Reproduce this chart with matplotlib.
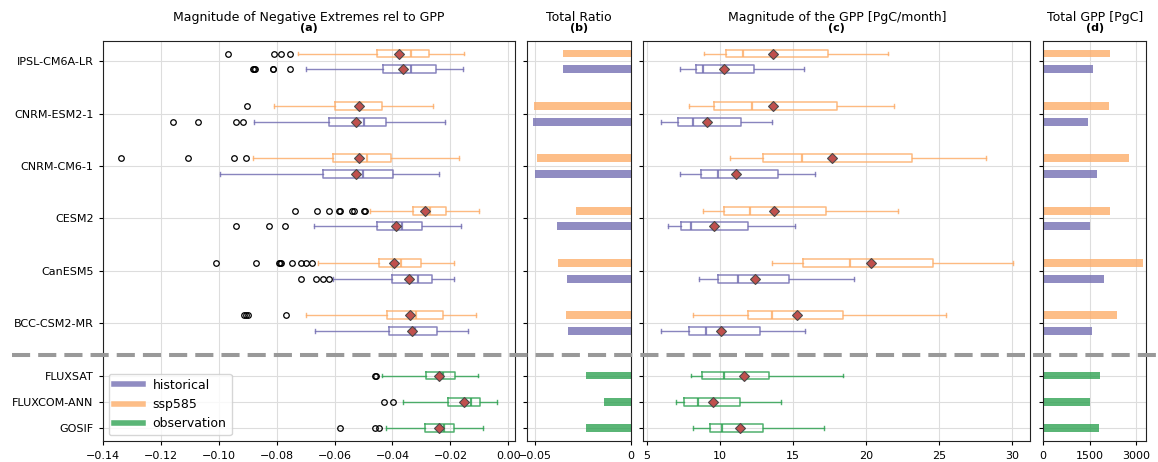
import numpy as np
import matplotlib
matplotlib.use("Agg")
import matplotlib.pyplot as plt
import matplotlib.transforms as mtransforms
from matplotlib.lines import Line2D
from matplotlib.colors import to_rgba

# ---- categories
models = ['IPSL-CM6A-LR', 'CNRM-ESM2-1', 'CNRM-CM6-1', 'CESM2', 'CanESM5', 'BCC-CSM2-MR']
obs_names = ['FLUXSAT', 'FLUXCOM-ANN', 'GOSIF']
model_y = [0, 2, 4, 6, 8, 10]
obs_y = [12, 13, 14]
sep_y = 11.2

col_hist = '#7570b3'
col_ssp = '#fdae6b'
col_obs = '#31a354'

# ---- (a) magnitude of negative extremes rel to GPP: [whislo, q1, med, q3, whishi]
ext_hist = [[-0.0697, -0.0431, -0.0335, -0.0248, -0.0156],
            [-0.0877, -0.0618, -0.0499, -0.0422, -0.0217],
            [-0.0996, -0.0638, -0.0503, -0.0399, -0.0241],
            [-0.0671, -0.0454, -0.0367, -0.0298, -0.0162],
            [-0.0604, -0.0400, -0.0313, -0.0262, -0.0187],
            [-0.0666, -0.0413, -0.0322, -0.0246, -0.0139]]
ext_hist_mean = [-0.0364, -0.0526, -0.0526, -0.0389, -0.0344, -0.0331]
ext_hist_fliers = [[-0.0880, -0.0878, -0.0876, -0.0814, -0.0812, -0.0752],
                   [-0.1157, -0.1071, -0.0939, -0.0916],
                   [],
                   [-0.0941, -0.0826, -0.0771],
                   [-0.0715, -0.0663, -0.0640, -0.0619],
                   []]

ext_ssp = [[-0.0727, -0.0454, -0.0335, -0.0274, -0.0153],
           [-0.0808, -0.0600, -0.0510, -0.0435, -0.0260],
           [-0.0880, -0.0604, -0.0488, -0.0406, -0.0171],
           [-0.0476, -0.0328, -0.0270, -0.0214, -0.0101],
           [-0.0656, -0.0447, -0.0370, -0.0300, -0.0187],
           [-0.0700, -0.0418, -0.0320, -0.0226, -0.0111]]
ext_ssp_mean = [-0.0377, -0.0514, -0.0514, -0.0289, -0.0396, -0.0339]
ext_ssp_fliers = [[-0.0969, -0.0809, -0.0785, -0.0755],
                  [-0.0903],
                  [-0.1336, -0.1104, -0.0947, -0.0906],
                  [-0.0737, -0.0661, -0.0619, -0.0584, -0.0580, -0.0541, -0.0532, -0.0498, -0.0496],
                  [-0.1010, -0.0871, -0.0790, -0.0787, -0.0784, -0.0747, -0.0715, -0.0698, -0.0679],
                  [-0.0913, -0.0907, -0.0900, -0.0767]]

ext_obs = [[-0.0436, -0.0285, -0.0225, -0.0184, -0.0106],
           [-0.0363, -0.0210, -0.0130, -0.0098, -0.0040],
           [-0.0421, -0.0287, -0.0221, -0.0186, -0.0087]]
ext_obs_mean = [-0.0240, -0.0154, -0.0240]
ext_obs_fliers = [[-0.0460, -0.0458], [-0.0428, -0.0397], [-0.0582, -0.0459, -0.0447]]

# ---- (b) total ratio
ratio_hist = [-0.0353, -0.0513, -0.0502, -0.0383, -0.0331, -0.0327]
ratio_ssp = [-0.0353, -0.0506, -0.0491, -0.0286, -0.0379, -0.0338]
ratio_obs = [-0.0234, -0.0141, -0.0234]

# ---- (c) magnitude of the GPP [PgC/month]
gpp_hist = [[7.27, 8.36, 8.85, 12.36, 15.75],
            [5.98, 7.18, 8.16, 11.47, 13.59],
            [7.27, 8.74, 9.89, 14.02, 16.52],
            [6.44, 7.33, 8.02, 11.93, 15.17],
            [8.56, 9.86, 11.26, 14.77, 19.22],
            [5.98, 7.93, 9.05, 12.73, 15.83]]
gpp_hist_mean = [10.29, 9.14, 11.12, 9.60, 12.44, 10.09]
gpp_ssp = [[8.94, 10.40, 11.61, 17.41, 21.52],
           [7.90, 9.60, 12.21, 18.02, 21.90],
           [10.72, 12.93, 15.66, 23.19, 28.19],
           [8.85, 10.32, 12.07, 17.27, 22.21],
           [13.56, 15.69, 18.94, 24.57, 30.06],
           [8.19, 11.95, 13.59, 18.45, 25.49]]
gpp_ssp_mean = [13.68, 13.65, 17.70, 13.71, 20.34, 15.29]
gpp_obs = [[8.07, 8.79, 10.29, 13.36, 18.45],
           [7.04, 7.53, 8.53, 11.41, 14.20],
           [8.19, 9.34, 10.17, 12.93, 17.13]]
gpp_obs_mean = [11.67, 9.57, 11.41]

# ---- (d) total GPP [PgC]
tot_hist = [1608, 1446, 1743, 1513, 1959, 1581]
tot_ssp = [2162, 2121, 2770, 2162, 3202, 2378]
tot_obs = [1837, 1513, 1797]


def make_stats(five, means, fliers=None):
    out = []
    for i, f in enumerate(five):
        out.append({'whislo': f[0], 'q1': f[1], 'med': f[2], 'q3': f[3], 'whishi': f[4],
                    'mean': means[i], 'fliers': fliers[i] if fliers else []})
    return out


def draw_box(ax, stats, pos, color, fliers=True):
    c = to_rgba(color, 0.85)
    ax.bxp(stats, positions=pos, widths=0.3, orientation='horizontal',
           showmeans=True, showfliers=fliers, manage_ticks=False,
           boxprops=dict(color=c, lw=1.1), whiskerprops=dict(color=c, lw=1.0),
           capprops=dict(color=c, lw=1.0), medianprops=dict(color=c, lw=1.6),
           meanprops=dict(marker='D', markerfacecolor='#c0504d', markeredgecolor='#4a4a4a',
                          markersize=5.5, markeredgewidth=0.8),
           flierprops=dict(marker='o', markerfacecolor='none', markeredgecolor='black',
                           markersize=4, markeredgewidth=0.9))


def draw_bars(ax, hist, ssp, obs):
    ax.barh(np.array(model_y) - 0.3, ssp, height=0.3, color=to_rgba(col_ssp, 0.8), zorder=2)
    ax.barh(np.array(model_y) + 0.3, hist, height=0.3, color=to_rgba(col_hist, 0.8), zorder=2)
    ax.barh(obs_y, obs, height=0.3, color=to_rgba(col_obs, 0.8), zorder=2)


def add_title(ax, main, lab):
    ax.text(0.5, 1.049, main, transform=ax.transAxes, ha='center', va='baseline', fontsize=9)
    ax.text(0.5, 1.024, lab, transform=ax.transAxes, ha='center', va='baseline',
            fontsize=8, fontweight='bold')


fig = plt.figure(figsize=(11.58, 4.62), dpi=100)
bot, hgt = 0.0444, 0.8675
ax_a = fig.add_axes([0.0887, bot, 0.3563, hgt])
ax_b = fig.add_axes([0.4554, bot, 0.0893, hgt])
ax_c = fig.add_axes([0.5555, bot, 0.3342, hgt])
ax_d = fig.add_axes([0.9007, bot, 0.0892, hgt])

all_y = model_y + obs_y
for ax in [ax_a, ax_b, ax_c, ax_d]:
    ax.set_ylim(14.52, -0.79)
    ax.set_yticks(all_y)
    ax.grid(True, color='#dddddd', lw=0.8)
    ax.set_axisbelow(True)
    ax.tick_params(labelsize=8, length=3)
    for s in ax.spines.values():
        s.set_color('#222222')

# (a)
draw_box(ax_a, make_stats(ext_ssp, ext_ssp_mean, ext_ssp_fliers), np.array(model_y) - 0.3, col_ssp)
draw_box(ax_a, make_stats(ext_hist, ext_hist_mean, ext_hist_fliers), np.array(model_y) + 0.3, col_hist)
draw_box(ax_a, make_stats(ext_obs, ext_obs_mean, ext_obs_fliers), obs_y, col_obs)
ax_a.set_xlim(-0.14, 0.0024)
ax_a.set_xticks(np.arange(-0.14, 0.001, 0.02))
ax_a.set_yticklabels(models + obs_names)
add_title(ax_a, 'Magnitude of Negative Extremes rel to GPP', '(a)')
handles = [Line2D([0], [0], color=to_rgba(col_hist, 0.8), lw=4),
           Line2D([0], [0], color=to_rgba(col_ssp, 0.8), lw=4),
           Line2D([0], [0], color=to_rgba(col_obs, 0.8), lw=4)]
ax_a.legend(handles, ['historical', 'ssp585', 'observation'], loc='lower left',
            fontsize=9, handlelength=2.3)

# (b)
draw_bars(ax_b, ratio_hist, ratio_ssp, ratio_obs)
ax_b.set_xlim(-0.054, 0)
ax_b.set_xticks([-0.05, 0])
ax_b.set_xticklabels(['\u22120.05', '0'])
ax_b.set_yticklabels([])
add_title(ax_b, 'Total Ratio', '(b)')

# (c)
draw_box(ax_c, make_stats(gpp_ssp, gpp_ssp_mean), np.array(model_y) - 0.3, col_ssp, fliers=False)
draw_box(ax_c, make_stats(gpp_hist, gpp_hist_mean), np.array(model_y) + 0.3, col_hist, fliers=False)
draw_box(ax_c, make_stats(gpp_obs, gpp_obs_mean), obs_y, col_obs, fliers=False)
ax_c.set_xlim(4.77, 31.25)
ax_c.set_xticks([5, 10, 15, 20, 25, 30])
ax_c.set_yticklabels([])
add_title(ax_c, 'Magnitude of the GPP [PgC/month]', '(c)')

# (d)
draw_bars(ax_d, tot_hist, tot_ssp, tot_obs)
ax_d.set_xlim(0, 3320)
ax_d.set_xticks([0, 1500, 3000])
ax_d.set_yticklabels([])
add_title(ax_d, 'Total GPP [PgC]', '(d)')

# separator between models and observations
trans = mtransforms.blended_transform_factory(fig.transFigure, ax_a.transData)
sep = Line2D([0.0101, 1.0], [sep_y, sep_y], transform=trans, color='#999999', lw=2.9,
             linestyle=(0, (4.5, 2.0)), zorder=10, clip_on=False)
fig.add_artist(sep)

fig.savefig('out.png', dpi=100)
